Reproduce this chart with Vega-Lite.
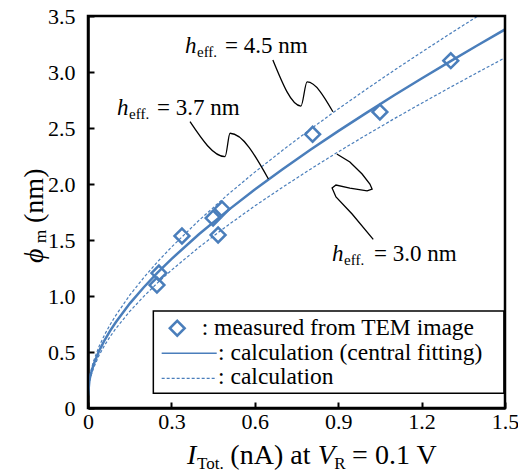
{
  "$schema": "https://vega.github.io/schema/vega-lite/v6.json",
  "width": 417,
  "height": 392,
  "autosize": {"type": "none"},
  "padding": {"left": 88, "top": 16, "right": 13, "bottom": 65},
  "background": "white",
  "config": {
    "font": "Liberation Serif",
    "view": {"stroke": null},
    "axis": {
      "domainColor": "black", "domainWidth": 2.5,
      "tickColor": "black", "tickWidth": 2, "tickSize": -6,
      "labelFont": "Liberation Serif", "labelFontSize": 22, "labelColor": "black",
      "grid": false, "labelFlush": false, "labelOverlap": false
    }
  },
  "datasets": {
    "curves": [
      {"x": 0, "y": 0.11, "curve": "central"}, {"x": 0.005, "y": 0.245, "curve": "central"}, {"x": 0.01, "y": 0.303, "curve": "central"}, {"x": 0.02, "y": 0.387, "curve": "central"}, {"x": 0.04, "y": 0.51, "curve": "central"}, {"x": 0.06, "y": 0.607, "curve": "central"}, {"x": 0.08, "y": 0.691, "curve": "central"}, {"x": 0.1, "y": 0.766, "curve": "central"}, {"x": 0.15, "y": 0.932, "curve": "central"}, {"x": 0.2, "y": 1.076, "curve": "central"}, {"x": 0.25, "y": 1.208, "curve": "central"}, {"x": 0.3, "y": 1.33, "curve": "central"}, {"x": 0.4, "y": 1.553, "curve": "central"}, {"x": 0.5, "y": 1.758, "curve": "central"}, {"x": 0.6, "y": 1.95, "curve": "central"}, {"x": 0.7, "y": 2.131, "curve": "central"}, {"x": 0.8, "y": 2.305, "curve": "central"}, {"x": 0.9, "y": 2.472, "curve": "central"}, {"x": 1.0, "y": 2.633, "curve": "central"}, {"x": 1.1, "y": 2.79, "curve": "central"}, {"x": 1.2, "y": 2.942, "curve": "central"}, {"x": 1.3, "y": 3.091, "curve": "central"}, {"x": 1.4, "y": 3.237, "curve": "central"}, {"x": 1.5, "y": 3.38, "curve": "central"},
      {"x": 0, "y": 0.11, "curve": "upper"}, {"x": 0.005, "y": 0.265, "curve": "upper"}, {"x": 0.01, "y": 0.327, "curve": "upper"}, {"x": 0.02, "y": 0.418, "curve": "upper"}, {"x": 0.04, "y": 0.551, "curve": "upper"}, {"x": 0.06, "y": 0.656, "curve": "upper"}, {"x": 0.08, "y": 0.746, "curve": "upper"}, {"x": 0.1, "y": 0.827, "curve": "upper"}, {"x": 0.15, "y": 1.007, "curve": "upper"}, {"x": 0.2, "y": 1.162, "curve": "upper"}, {"x": 0.25, "y": 1.305, "curve": "upper"}, {"x": 0.3, "y": 1.436, "curve": "upper"}, {"x": 0.4, "y": 1.677, "curve": "upper"}, {"x": 0.5, "y": 1.899, "curve": "upper"}, {"x": 0.6, "y": 2.106, "curve": "upper"}, {"x": 0.7, "y": 2.301, "curve": "upper"}, {"x": 0.8, "y": 2.489, "curve": "upper"}, {"x": 0.9, "y": 2.67, "curve": "upper"}, {"x": 1.0, "y": 2.844, "curve": "upper"}, {"x": 1.1, "y": 3.013, "curve": "upper"}, {"x": 1.2, "y": 3.177, "curve": "upper"}, {"x": 1.3, "y": 3.338, "curve": "upper"}, {"x": 1.4, "y": 3.496, "curve": "upper"}, {"x": 1.403, "y": 3.5, "curve": "upper"},
      {"x": 0, "y": 0.11, "curve": "lower"}, {"x": 0.005, "y": 0.227, "curve": "lower"}, {"x": 0.01, "y": 0.28, "curve": "lower"}, {"x": 0.02, "y": 0.358, "curve": "lower"}, {"x": 0.04, "y": 0.472, "curve": "lower"}, {"x": 0.06, "y": 0.561, "curve": "lower"}, {"x": 0.08, "y": 0.639, "curve": "lower"}, {"x": 0.1, "y": 0.709, "curve": "lower"}, {"x": 0.15, "y": 0.862, "curve": "lower"}, {"x": 0.2, "y": 0.995, "curve": "lower"}, {"x": 0.25, "y": 1.117, "curve": "lower"}, {"x": 0.3, "y": 1.23, "curve": "lower"}, {"x": 0.4, "y": 1.437, "curve": "lower"}, {"x": 0.5, "y": 1.626, "curve": "lower"}, {"x": 0.6, "y": 1.804, "curve": "lower"}, {"x": 0.7, "y": 1.971, "curve": "lower"}, {"x": 0.8, "y": 2.132, "curve": "lower"}, {"x": 0.9, "y": 2.287, "curve": "lower"}, {"x": 1.0, "y": 2.436, "curve": "lower"}, {"x": 1.1, "y": 2.581, "curve": "lower"}, {"x": 1.2, "y": 2.721, "curve": "lower"}, {"x": 1.3, "y": 2.859, "curve": "lower"}, {"x": 1.4, "y": 2.994, "curve": "lower"}, {"x": 1.5, "y": 3.127, "curve": "lower"}
    ],
    "measured": [
      {"x": 0.248, "y": 1.098}, {"x": 0.255, "y": 1.205}, {"x": 0.338, "y": 1.536}, {"x": 0.45, "y": 1.696}, {"x": 0.482, "y": 1.777}, {"x": 0.468, "y": 1.545}, {"x": 0.808, "y": 2.444}, {"x": 1.05, "y": 2.643}, {"x": 1.305, "y": 3.101}
    ],
    "leaders_smooth": [
      {"id": "a", "i": 0, "x": 0.665, "y": 3.107}, {"id": "a", "i": 1, "x": 0.766, "y": 2.696}, {"id": "a", "i": 2, "x": 0.788, "y": 2.911}, {"id": "a", "i": 3, "x": 0.881, "y": 2.645},
      {"id": "b", "i": 0, "x": 0.367, "y": 2.556}, {"id": "b", "i": 1, "x": 0.493, "y": 2.244}, {"id": "b", "i": 2, "x": 0.511, "y": 2.453}, {"id": "b", "i": 3, "x": 0.649, "y": 2.045}
    ],
    "leader_c": [
      {"i": 0, "x": 0.895, "y": 2.268}, {"i": 1, "x": 0.942, "y": 2.196}, {"i": 2, "x": 0.986, "y": 2.089}, {"i": 3, "x": 1.014, "y": 2.0}, {"i": 4, "x": 1.022, "y": 1.955}, {"i": 5, "x": 1.004, "y": 1.938}, {"i": 6, "x": 0.942, "y": 1.964}, {"i": 7, "x": 0.892, "y": 1.991}, {"i": 8, "x": 0.878, "y": 1.964}, {"i": 9, "x": 0.892, "y": 1.884}, {"i": 10, "x": 0.95, "y": 1.732}, {"i": 11, "x": 1.026, "y": 1.506}
    ],
    "frame": [{"x": 0, "x2": 1.5, "y": 0, "y2": 3.5}],
    "legend_box": [{"x": 0.235, "x2": 1.496, "y": 0.131, "y2": 0.866}],
    "legend_symbol": [{"x": 0.321, "y": 0.712}],
    "legend_solid": [{"x": 0.265, "y": 0.488}, {"x": 0.463, "y": 0.488}],
    "legend_dashed": [{"x": 0.265, "y": 0.265}, {"x": 0.463, "y": 0.265}],
    "legend_text": [
      {"x": 0.409, "y": 0.652, "text": ": measured from TEM image"},
      {"x": 0.468, "y": 0.4286, "text": ": calculation (central fitting)"},
      {"x": 0.468, "y": 0.214, "text": ": calculation"}
    ],
    "ann_h": [{"x": 0.349, "y": 3.17, "text": "h"}, {"x": 0.104, "y": 2.616, "text": "h"}, {"x": 0.878, "y": 1.3125, "text": "h"}],
    "ann_sub": [{"x": 0.392, "y": 3.134, "text": "eff."}, {"x": 0.1475, "y": 2.58, "text": "eff."}, {"x": 0.921, "y": 1.277, "text": "eff."}],
    "ann_main": [{"x": 0.493, "y": 3.17, "text": "= 4.5 nm"}, {"x": 0.248, "y": 2.616, "text": "= 3.7 nm"}, {"x": 1.029, "y": 1.3125, "text": "= 3.0 nm"}],
    "xt_it": [{"x": 0.356, "y": -0.5, "text": "I"}, {"x": 0.826, "y": -0.5, "text": "V"}],
    "xt_sub": [{"x": 0.392, "y": -0.5446, "text": "Tot."}, {"x": 0.886, "y": -0.5446, "text": "R"}],
    "xt_main": [{"x": 0.512, "y": -0.5, "text": "(nA) at"}, {"x": 0.95, "y": -0.5, "text": "= 0.1 V"}],
    "yt_it": [{"x": -0.1619, "y": 1.295, "text": "ϕ"}],
    "yt_sub": [{"x": -0.151, "y": 1.473, "text": "m"}],
    "yt_main": [{"x": -0.1619, "y": 1.652, "text": "(nm)"}]
  },
  "encoding": {
    "x": {
      "field": "x", "type": "quantitative",
      "scale": {"domain": [0, 1.5], "nice": false, "zero": false},
      "axis": {"title": null, "values": [0, 0.3, 0.6, 0.9, 1.2, 1.5], "labelPadding": 9, "labelExpr": "datum.value == 0 ? '0' : format(datum.value, '.1f')"}
    },
    "y": {
      "field": "y", "type": "quantitative",
      "scale": {"domain": [0, 3.5], "nice": false, "zero": false},
      "axis": {"title": null, "values": [0, 0.5, 1, 1.5, 2, 2.5, 3, 3.5], "labelPadding": 19, "labelExpr": "datum.value == 0 ? '0' : format(datum.value, '.1f')"}
    }
  },
  "layer": [
    {
      "data": {"name": "curves"},
      "transform": [{"filter": "datum.curve == 'central'"}],
      "mark": {"type": "line", "color": "#4A7EBB", "strokeWidth": 2.5, "clip": true}
    },
    {
      "data": {"name": "curves"},
      "transform": [{"filter": "datum.curve != 'central'"}],
      "mark": {"type": "line", "color": "#4A7EBB", "strokeWidth": 1.2, "strokeDash": [3, 2], "clip": true},
      "encoding": {"detail": {"field": "curve"}}
    },
    {
      "data": {"name": "leaders_smooth"},
      "mark": {"type": "line", "color": "black", "strokeWidth": 1.3, "interpolate": "monotone"},
      "encoding": {"detail": {"field": "id"}, "order": {"field": "i"}}
    },
    {
      "data": {"name": "leader_c"},
      "mark": {"type": "line", "color": "black", "strokeWidth": 1.3},
      "encoding": {"order": {"field": "i"}}
    },
    {
      "data": {"name": "measured"},
      "mark": {"type": "point", "shape": "diamond", "size": 220, "filled": false, "color": "#4A7EBB", "strokeWidth": 2.5, "opacity": 1}
    },
    {
      "data": {"name": "frame"},
      "mark": {"type": "rect", "fill": null, "fillOpacity": 0, "stroke": "black", "strokeWidth": 2.5},
      "encoding": {"x2": {"field": "x2"}, "y2": {"field": "y2"}}
    },
    {
      "data": {"name": "legend_box"},
      "mark": {"type": "rect", "fill": "white", "stroke": "black", "strokeWidth": 1.5},
      "encoding": {"x2": {"field": "x2"}, "y2": {"field": "y2"}}
    },
    {
      "data": {"name": "legend_symbol"},
      "mark": {"type": "point", "shape": "diamond", "size": 220, "filled": false, "color": "#4A7EBB", "strokeWidth": 2.5, "opacity": 1}
    },
    {
      "data": {"name": "legend_solid"},
      "mark": {"type": "line", "color": "#4A7EBB", "strokeWidth": 1.5}
    },
    {
      "data": {"name": "legend_dashed"},
      "mark": {"type": "line", "color": "#4A7EBB", "strokeWidth": 1.2, "strokeDash": [3, 2]}
    },
    {
      "data": {"name": "legend_text"},
      "mark": {"type": "text", "align": "left", "baseline": "alphabetic", "fontSize": 23.5, "color": "black", "font": "Liberation Serif"},
      "encoding": {"text": {"field": "text"}}
    },
    {
      "data": {"name": "ann_h"},
      "mark": {"type": "text", "align": "left", "baseline": "alphabetic", "fontSize": 23, "fontStyle": "italic", "color": "black", "font": "Liberation Serif"},
      "encoding": {"text": {"field": "text"}}
    },
    {
      "data": {"name": "ann_sub"},
      "mark": {"type": "text", "align": "left", "baseline": "alphabetic", "fontSize": 15, "color": "black", "font": "Liberation Serif"},
      "encoding": {"text": {"field": "text"}}
    },
    {
      "data": {"name": "ann_main"},
      "mark": {"type": "text", "align": "left", "baseline": "alphabetic", "fontSize": 23, "color": "black", "font": "Liberation Serif"},
      "encoding": {"text": {"field": "text"}}
    },
    {
      "data": {"name": "xt_it"},
      "mark": {"type": "text", "align": "left", "baseline": "alphabetic", "fontSize": 28, "fontStyle": "italic", "color": "black", "font": "Liberation Serif"},
      "encoding": {"text": {"field": "text"}}
    },
    {
      "data": {"name": "xt_sub"},
      "mark": {"type": "text", "align": "left", "baseline": "alphabetic", "fontSize": 17, "color": "black", "font": "Liberation Serif"},
      "encoding": {"text": {"field": "text"}}
    },
    {
      "data": {"name": "xt_main"},
      "mark": {"type": "text", "align": "left", "baseline": "alphabetic", "fontSize": 28, "color": "black", "font": "Liberation Serif"},
      "encoding": {"text": {"field": "text"}}
    },
    {
      "data": {"name": "yt_it"},
      "mark": {"type": "text", "align": "left", "baseline": "alphabetic", "fontSize": 28, "fontStyle": "italic", "angle": 270, "color": "black", "font": "Liberation Serif"},
      "encoding": {"text": {"field": "text"}}
    },
    {
      "data": {"name": "yt_sub"},
      "mark": {"type": "text", "align": "left", "baseline": "alphabetic", "fontSize": 17, "angle": 270, "color": "black", "font": "Liberation Serif"},
      "encoding": {"text": {"field": "text"}}
    },
    {
      "data": {"name": "yt_main"},
      "mark": {"type": "text", "align": "left", "baseline": "alphabetic", "fontSize": 28, "angle": 270, "color": "black", "font": "Liberation Serif"},
      "encoding": {"text": {"field": "text"}}
    }
  ]
}
